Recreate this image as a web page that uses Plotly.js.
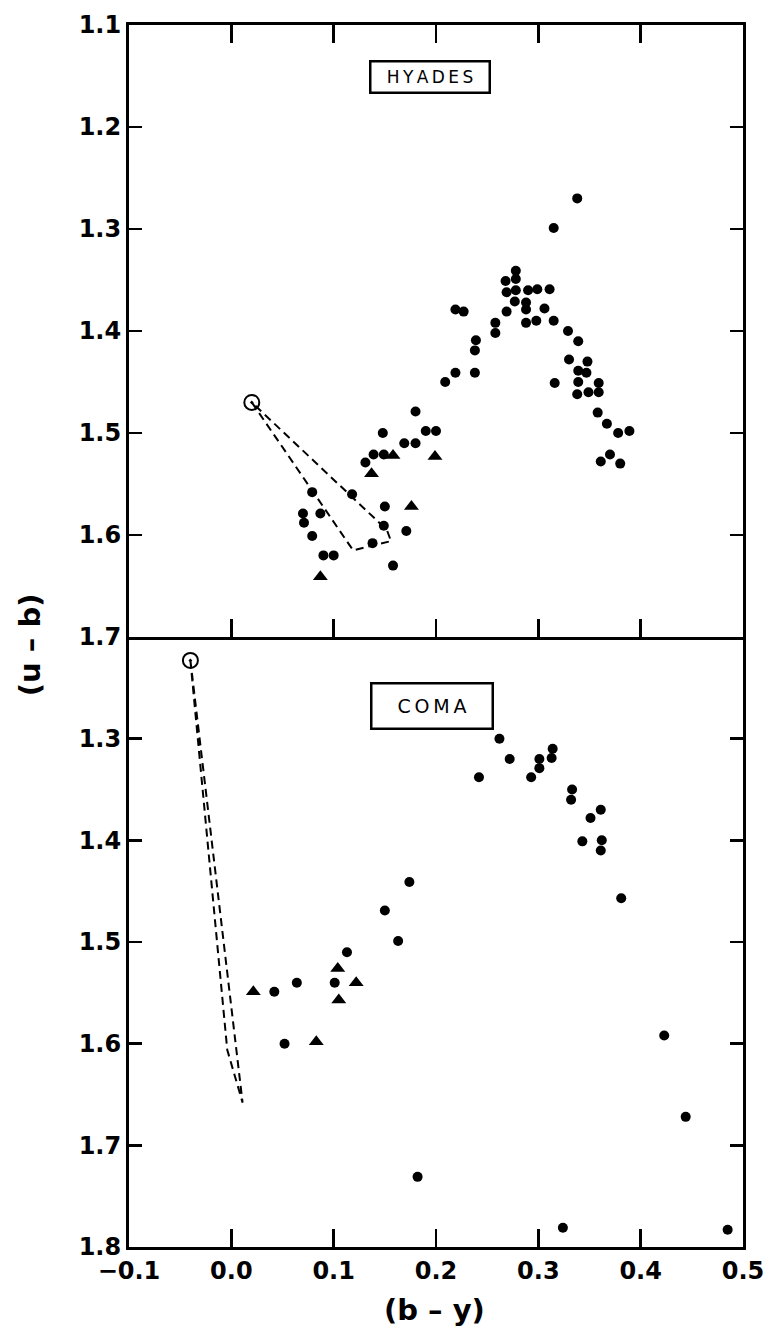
<!DOCTYPE html>
<html>
<head>
<meta charset="utf-8">
<script src="https://cdn.plot.ly/plotly-3.0.1.min.js"></script>
<style>html,body{margin:0;padding:0;background:#fff;}#chart{width:775px;height:1339px;}</style>
</head>
<body>
<div id="chart"></div>
<script>
// ---- HYADES (top panel) ----
const hyadesDotX = [0.079,0.070,0.071,0.087,0.079,0.090,0.100,0.118,0.150,0.149,0.138,0.171,0.158,0.131,0.139,0.149,0.148,0.169,0.180,0.180,0.190,0.200,0.209,0.219,0.238,0.338,0.315,0.278,0.278,0.268,0.269,0.278,0.290,0.299,0.311,0.277,0.288,0.288,0.306,0.269,0.288,0.298,0.315,0.329,0.339,0.219,0.227,0.258,0.258,0.239,0.238,0.330,0.348,0.339,0.347,0.316,0.339,0.359,0.338,0.349,0.359,0.358,0.367,0.378,0.389,0.370,0.361,0.380];
const hyadesDotY = [1.558,1.579,1.588,1.579,1.601,1.620,1.620,1.560,1.572,1.591,1.608,1.596,1.630,1.529,1.521,1.521,1.500,1.510,1.510,1.479,1.498,1.498,1.450,1.441,1.441,1.270,1.299,1.341,1.349,1.351,1.362,1.360,1.360,1.359,1.359,1.371,1.372,1.379,1.378,1.381,1.392,1.390,1.390,1.400,1.410,1.379,1.381,1.392,1.402,1.409,1.419,1.428,1.430,1.439,1.441,1.451,1.450,1.451,1.462,1.460,1.460,1.480,1.491,1.500,1.498,1.521,1.528,1.530];
const hyadesTriX = [0.087,0.176,0.137,0.158,0.199];
const hyadesTriY = [1.641,1.572,1.540,1.522,1.523];
const hyadesSunX = [0.020];
const hyadesSunY = [1.470];
const hyadesEnvX = [0.020,0.119,0.156,0.152,0.020];
const hyadesEnvY = [1.470,1.615,1.606,1.595,1.470];

// ---- COMA (bottom panel) ----
const comaDotX = [0.042,0.064,0.052,0.101,0.113,0.150,0.163,0.174,0.182,0.262,0.272,0.242,0.293,0.301,0.301,0.314,0.313,0.333,0.332,0.361,0.351,0.343,0.362,0.361,0.381,0.423,0.444,0.324,0.485];
const comaDotY = [1.549,1.540,1.600,1.540,1.510,1.469,1.499,1.441,1.731,1.300,1.320,1.338,1.338,1.320,1.329,1.310,1.319,1.350,1.360,1.370,1.378,1.401,1.400,1.410,1.457,1.592,1.672,1.781,1.783];
const comaTriX = [0.0215,0.083,0.104,0.105,0.122];
const comaTriY = [1.549,1.598,1.526,1.557,1.540];
const comaSunX = [-0.040];
const comaSunY = [1.223];
const comaEnvX = [-0.040,-0.004,0.011,-0.040];
const comaEnvY = [1.223,1.606,1.658,1.223];

// ---- axes ticks ----
const xTickVals = [-0.1,0.0,0.1,0.2,0.3,0.4,0.5];
const xTickText = ['\u22120.1','0.0','0.1','0.2','0.3','0.4','0.5'];
const topYTicks = [1.1,1.2,1.3,1.4,1.5,1.6,1.7];
const botYTicks = [1.3,1.4,1.5,1.6,1.7,1.8];

const dotM = {color:'#000', size:10, symbol:'circle'};
const triM = {color:'#000', size:13, symbol:'triangle-up'};
const sunM = {color:'#000', size:15, symbol:'circle-open-dot', line:{color:'#000', width:2}};
const envL = {color:'#000', width:2, dash:'8px,5px'};

const traces = [
  {x:hyadesEnvX, y:hyadesEnvY, mode:'lines', line:envL, xaxis:'x2', yaxis:'y2'},
  {x:hyadesDotX, y:hyadesDotY, mode:'markers', marker:dotM, xaxis:'x2', yaxis:'y2'},
  {x:hyadesTriX, y:hyadesTriY, mode:'markers', marker:triM, xaxis:'x2', yaxis:'y2'},
  {x:hyadesSunX, y:hyadesSunY, mode:'markers', marker:sunM, xaxis:'x2', yaxis:'y2'},
  {x:comaEnvX, y:comaEnvY, mode:'lines', line:envL, xaxis:'x', yaxis:'y'},
  {x:comaDotX, y:comaDotY, mode:'markers', marker:dotM, xaxis:'x', yaxis:'y'},
  {x:comaTriX, y:comaTriY, mode:'markers', marker:triM, xaxis:'x', yaxis:'y'},
  {x:comaSunX, y:comaSunY, mode:'markers', marker:sunM, xaxis:'x', yaxis:'y'}
];

const fontFam = 'DejaVu Sans, sans-serif';
const axCommon = {showgrid:false, zeroline:false, showline:true, linecolor:'#000', linewidth:3,
  ticks:'inside', tickcolor:'#000', tickwidth:2.5,
  tickfont:{family:fontFam, size:24, color:'#000', weight:'bold'}};
const split = 610/1222;

const layout = {
  width:775, height:1339, showlegend:false,
  paper_bgcolor:'#fff', plot_bgcolor:'#fff',
  margin:{l:129, r:32, t:25, b:92},
  xaxis: Object.assign({}, axCommon, {domain:[0,1], range:[-0.1,0.5], anchor:'y', mirror:false,
    tickmode:'array', tickvals:xTickVals, ticktext:xTickText, ticklen:18}),
  yaxis: Object.assign({}, axCommon, {domain:[0,split], range:[1.8,1.2], anchor:'x', mirror:'ticks',
    tickmode:'array', tickvals:botYTicks, ticktext:botYTicks.map(v=>v.toFixed(1)), ticklen:13}),
  xaxis2: Object.assign({}, axCommon, {domain:[0,1], range:[-0.1,0.5], anchor:'y2', mirror:'ticks',
    matches:'x', showticklabels:false, tickmode:'array', tickvals:[0,0.1,0.2,0.3,0.4], ticklen:18}),
  yaxis2: Object.assign({}, axCommon, {domain:[split,1], range:[1.7,1.1], anchor:'x2', mirror:'ticks',
    tickmode:'array', tickvals:topYTicks, ticktext:topYTicks.map(v=>v.toFixed(1)), ticklen:13}),
  annotations:[
    {xref:'x2', yref:'y2', x:0.194, y:1.151, text:'H\u2009Y\u2009A\u2009D\u2009E\u2009S', showarrow:false,
     font:{family:fontFam, size:17, color:'#000'}, bordercolor:'#000', borderwidth:2.5, borderpad:2,
     width:113, height:25, bgcolor:'#fff'},
    {xref:'x', yref:'y', x:0.196, y:1.268, text:'C\u2009O\u2009M\u2009A', showarrow:false,
     font:{family:fontFam, size:19, color:'#000'}, bordercolor:'#000', borderwidth:2.5, borderpad:2,
     width:115, height:39, bgcolor:'#fff'},
    {xref:'paper', yref:'paper', x:-0.161, y:0.4926, text:'<b>(u \u2013 b)</b>', showarrow:false,
     textangle:-90, font:{family:fontFam, size:29, color:'#000'}, xanchor:'center', yanchor:'middle'},
    {xref:'paper', yref:'paper', x:0.498, y:-0.0516, text:'<b>(b \u2013 y)</b>', showarrow:false,
     font:{family:fontFam, size:29, color:'#000'}, xanchor:'center', yanchor:'middle'}
  ]
};

Plotly.newPlot('chart', traces, layout, {staticPlot:true, displayModeBar:false});
</script>
</body>
</html>
